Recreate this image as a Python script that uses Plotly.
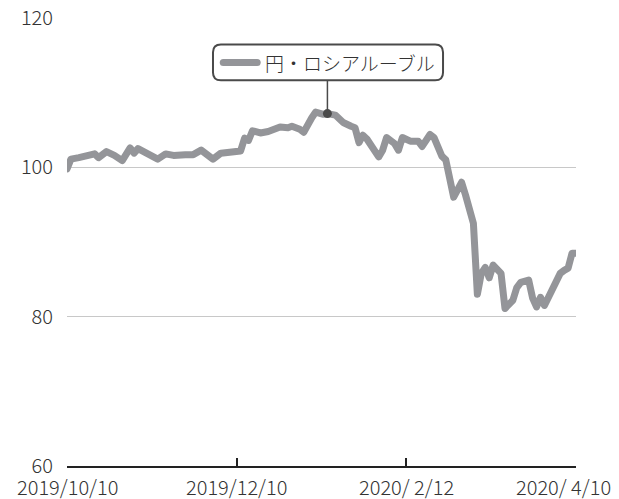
import plotly.graph_objects as go

# Trading-day index (x) and JPY per RUB index value (y)
day_index = [0, 1, 3, 5, 7, 8, 10, 12, 14, 16, 17, 18, 20, 23, 25, 27, 30, 32, 34, 37,
             39, 41, 44, 45, 46, 47, 49, 51, 52, 54, 56, 57, 59, 60, 62, 63, 65, 66, 68, 70,
             72, 73, 74, 75, 76, 79, 80, 81, 83, 84, 85, 87, 89, 90, 92, 93, 95, 96, 98, 100,
             101, 103, 104, 105, 106, 107, 108, 109, 110, 111, 113, 114, 115, 117, 118, 119, 120, 121, 123, 125,
             126, 127, 128, 129]
values = [99.8, 101.1, 101.3, 101.5, 101.8, 101.3, 102.1, 101.6, 100.9, 102.6, 101.9, 102.5, 102.0, 101.1, 101.8, 101.6, 101.7, 101.7, 102.3, 101.1,
          101.9, 102.0, 102.2, 103.9, 103.6, 104.9, 104.6, 104.8, 105.0, 105.4, 105.3, 105.5, 105.1, 104.7, 106.6, 107.4, 107.1, 107.2, 107.0, 106.0,
          105.5, 105.3, 103.3, 104.3, 103.8, 101.4, 102.3, 104.0, 103.2, 102.3, 104.0, 103.5, 103.5, 102.8, 104.4, 104.0, 101.5, 101.0, 96.0, 98.0,
          96.3, 92.5, 83.0, 85.8, 86.6, 85.2, 86.9, 86.3, 85.8, 81.1, 82.2, 83.9, 84.6, 84.9, 82.5, 81.3, 82.6, 81.5, 83.5, 85.8,
          86.2, 86.5, 88.5, 88.5]

tick_index = [0, 43, 86, 129]
tick_labels = ["2019/10/10", "2019/12/10", "2020/ 2/12", "2020/ 4/10"]
y_ticks = [60, 80, 100, 120]
series_name = "円・ロシアルーブル"
callout_point = 66  # day index of the highlighted point

LINE_COLOR = "#949599"
DARK = "#4a4a4a"
TEXT = "#333333"
FONT = "Noto Sans CJK JP"

fig = go.Figure()
fig.add_trace(go.Scatter(x=day_index, y=values, mode="lines",
                         line=dict(color=LINE_COLOR, width=7), hoverinfo="skip"))

# callout marker
ci = day_index.index(callout_point)
fig.add_trace(go.Scatter(x=[callout_point], y=[values[ci]], mode="markers",
                         marker=dict(color=DARK, size=9), hoverinfo="skip"))

# callout box (rounded) in data coordinates
bx0, bx1 = 37.0, 95.3
by0, by1 = 111.65, 116.45
rx, ry = 2.0, 1.05
path = (f"M {bx0+rx},{by1} L {bx1-rx},{by1} Q {bx1},{by1} {bx1},{by1-ry} "
        f"L {bx1},{by0+ry} Q {bx1},{by0} {bx1-rx},{by0} "
        f"L {bx0+rx},{by0} Q {bx0},{by0} {bx0},{by0+ry} "
        f"L {bx0},{by1-ry} Q {bx0},{by1} {bx0+rx},{by1} Z")
fig.add_shape(type="path", path=path, xref="x", yref="y",
              line=dict(color=DARK, width=2), fillcolor="white", layer="below")
fig.add_shape(type="line", x0=callout_point, x1=callout_point, y0=by0, y1=values[ci],
              xref="x", yref="y", line=dict(color=DARK, width=1.5), layer="below")
ymid = (by0 + by1) / 2
fig.add_trace(go.Scatter(x=[39.6, 48.2], y=[ymid, ymid], mode="lines",
                         line=dict(color=LINE_COLOR, width=7), hoverinfo="skip"))
fig.add_annotation(x=49.6, y=ymid, xref="x", yref="y", text=series_name,
                   showarrow=False, xanchor="left", yanchor="middle",
                   font=dict(family=FONT, size=19, color=TEXT, weight=300))

# x tick labels (last one kept inside the picture, as in the reference)
for i, (tv, tl) in enumerate(zip(tick_index, tick_labels)):
    last = i == len(tick_index) - 1
    fig.add_annotation(x=tv, y=60, xref="x", yref="y", text=tl, showarrow=False,
                       xanchor="right" if last else "center", yanchor="top",
                       xshift=37 if last else 0, yshift=-4,
                       font=dict(family=FONT, size=20, color=TEXT, weight=300))

fig.update_layout(
    width=619, height=499,
    margin=dict(l=67, r=43, t=18, b=33),
    paper_bgcolor="white", plot_bgcolor="white",
    showlegend=False,
    font=dict(family=FONT, size=20, color=TEXT, weight=300),
)
fig.update_xaxes(range=[0, 129], tickvals=tick_index, showticklabels=False, automargin=False,
                 showgrid=False, zeroline=False, showline=True, linecolor="#222222",
                 linewidth=2, ticks="inside", ticklen=8, tickwidth=2, tickcolor="#222222")
fig.update_yaxes(range=[60, 120], tickvals=y_ticks, showgrid=True, gridcolor="#c8c8c8",
                 gridwidth=1, zeroline=False, showline=False, ticks="", automargin=False,
                 ticklabelstandoff=13,
                 tickfont=dict(family=FONT, size=20, color=TEXT, weight=300))

post = """
document.body.style.margin='0';
document.querySelectorAll('.scatterlayer path.js-line').forEach(function(p){
  p.style.strokeLinejoin='round'; p.style.strokeLinecap='round';
});
"""
fig.write_html("out.html", post_script=post, config={"displayModeBar": False})
